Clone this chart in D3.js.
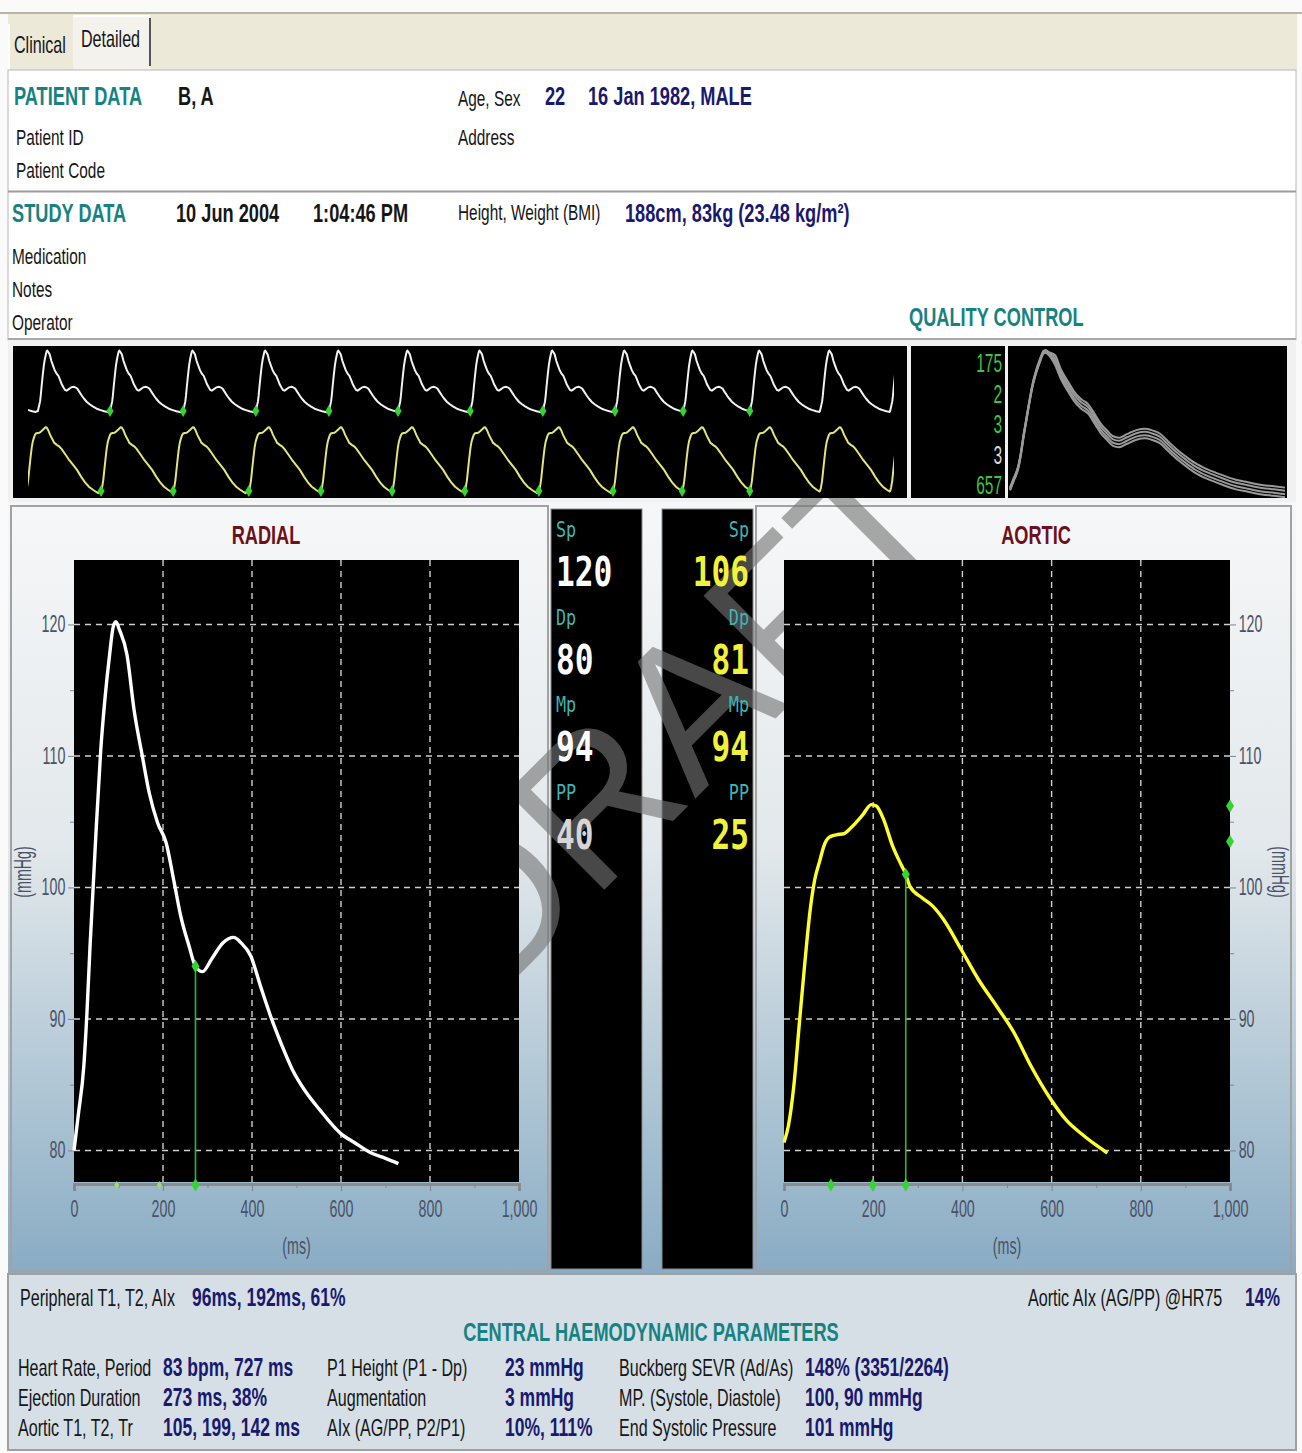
<!DOCTYPE html>
<html>
<head>
<meta charset="utf-8">
<script src="https://cdnjs.cloudflare.com/ajax/libs/d3/7.8.5/d3.min.js"></script>
<style>
  html, body { margin: 0; padding: 0; background: #fff; overflow: hidden; }
</style>
</head>
<body>
<div id="chart"></div>
<script>

// ---- waveform data (time in ms, pressure in mmHg)
const radialT = [0, 10, 22, 29, 36, 43, 49, 60, 70, 80, 88, 94, 102, 119, 135, 154, 169, 188, 207, 225, 240, 258, 273, 289, 310, 335, 359, 375, 397, 420, 444, 467, 490, 520, 552, 599, 630, 668, 700, 729];
const radialP = [80, 82.8, 86.4, 90.4, 95.5, 100, 103.9, 110.4, 114.5, 117.7, 119.8, 120.2, 119.6, 117.7, 113.5, 109.9, 107.2, 104.9, 103.4, 100.4, 97.8, 95.6, 94.0, 93.6, 94.6, 95.8, 96.2, 95.8, 94.8, 92.4, 90, 88, 86.2, 84.5, 83.1, 81.3, 80.6, 79.8, 79.4, 79.0];

const aorticT = [0, 10, 22, 34, 46, 58, 69, 80, 90, 101, 117, 135, 152, 176, 196, 207, 223, 243, 263, 273, 282, 310, 333, 357, 397, 436, 476, 515, 554, 594, 633, 673, 700, 725];
const aorticP = [80.6, 81.9, 84.9, 89.5, 94, 98.1, 100.6, 102.0, 103.2, 103.8, 104.0, 104.1, 104.6, 105.5, 106.3, 106.2, 105.2, 103.2, 101.7, 101.0, 100.1, 99.2, 98.6, 97.6, 95.3, 93.0, 91.0, 89.0, 86.4, 84.1, 82.3, 81.1, 80.4, 79.8];

// axes
const xTicks = [0, 200, 400, 600, 800, 1000];
const xMinor = [100, 300, 500, 700, 900];
const yTicks = [80, 90, 100, 110, 120];
const yMinor = [85, 95, 105, 115];
const yVisible = [77.6, 124.9];

// markers
const radialAxisMarks = [96, 192, 273];
const aorticAxisMarks = [105, 199, 273];
const aorticSideMarks = [106.2, 103.5];
const ejectionMs = 273;

// beat onsets in the capture strip (ms)
const radialOnsets = [-475, 250, 975, 1710, 2440, 3175, 3870, 4595, 5325, 6050, 6735, 7405, 8110, 8815];
const aorticOnsets = [-597, 130, 885, 1610, 2370, 3095, 3810, 4540, 5285, 6030, 6725, 7405, 8110, 8815];
const qcSpread = [-1.4, -0.5, 0.5, 1.4];
const qcReadings = ["175", "2", "3", "3", "657"];
const qcColors = ["#3fc43f", "#3fc43f", "#3fc43f", "#d8d8d8", "#3fc43f"];

// pressures
const bpNames = ["Sp", "Dp", "Mp", "PP"];
const radialBP = [120, 80, 94, 40];
const aorticBP = [106, 81, 94, 25];

// patient / parameter texts
const patientRow = ["B, A", "22", "16 Jan 1982, MALE"];
const studyRow = ["10 Jun 2004", "1:04:46 PM", "188cm, 83kg (23.48 kg/m\u00b2)"];
const peripheral = ["Peripheral T1, T2, AIx", "96ms, 192ms, 61%"];
const aorticAIx = ["Aortic AIx (AG/PP) @HR75", "14%"];
const centralLabels = [
  ["Heart Rate, Period", "Ejection Duration", "Aortic T1, T2, Tr"],
  ["P1 Height (P1 - Dp)", "Augmentation", "AIx (AG/PP, P2/P1)"],
  ["Buckberg SEVR (Ad/As)", "MP. (Systole, Diastole)", "End Systolic Pressure"]];
const centralValues = [
  ["83 bpm, 727 ms", "273 ms, 38%", "105, 199, 142 ms"],
  ["23 mmHg", "3 mmHg", "10%, 111%"],
  ["148% (3351/2264)", "100, 90 mmHg", "101 mmHg"]];


const W = 1302, H = 1453;
const SANS = "'Liberation Sans', Arial, sans-serif";
const MONO = "'DejaVu Sans Mono', 'Liberation Mono', monospace";
const SX = 0.7;
const TEAL = "#178282", NAVY = "#19196e", INK = "#161616", WINE = "#6e1018", AXIS = "#4a5266";
const GREEN = "#33d433";

const svg = d3.select("#chart").append("svg")
    .attr("width", W)
    .attr("height", H);

const defs = svg.append("defs");
const grad = defs.append("linearGradient")
    .attr("id", "panelGrad")
    .attr("x1", 0).attr("y1", 0).attr("x2", 0).attr("y2", 1);
[[0, "#f6f7f8"], [0.45, "#e2e8eb"], [1, "#89acc4"]].forEach(([o, c]) =>
    grad.append("stop").attr("offset", o).attr("stop-color", c));

// condensed text helper
function label(g, x, y, s, o = {}) {
    const sx = o.sx ?? SX;
    const rot = o.rotate ? ` rotate(${o.rotate})` : "";
    return g.append("text")
        .attr("transform", `translate(${x},${y})${rot} scale(${sx},1)`)
        .attr("font-family", o.family || SANS)
        .attr("font-size", o.size || 22)
        .attr("font-weight", o.bold ? 700 : 400)
        .attr("fill", o.fill || INK)
        .attr("text-anchor", o.anchor || "start")
        .text(s);
}

function diamond(w, h) {
    return `M0,${-h}L${w},0L0,${h}L${-w},0Z`;
}

// ---- frame
svg.append("rect").attr("width", W).attr("height", H).attr("fill", "#fafafa");
svg.append("rect").attr("x", 8).attr("y", 14).attr("width", 1289).attr("height", 56).attr("fill", "#ece9d8");
svg.append("line").attr("x1", 0).attr("x2", W).attr("y1", 13).attr("y2", 13).attr("stroke", "#b9b5a2").attr("stroke-width", 2);

// tabs
svg.append("rect").attr("x", 73).attr("y", 16).attr("width", 77).attr("height", 54).attr("fill", "#f3f2ec");
svg.append("line").attr("x1", 150).attr("x2", 150).attr("y1", 18).attr("y2", 66).attr("stroke", "#555").attr("stroke-width", 2);
svg.append("line").attr("x1", 73).attr("x2", 150).attr("y1", 16).attr("y2", 16).attr("stroke", "#fff").attr("stroke-width", 2);
svg.append("line").attr("x1", 9).attr("x2", 9).attr("y1", 24).attr("y2", 70).attr("stroke", "#fff").attr("stroke-width", 2);
label(svg, 14, 53, "Clinical", {size: 23});
label(svg, 81, 47, "Detailed", {size: 23});

// patient / study panel
svg.append("rect").attr("x", 8).attr("y", 70).attr("width", 1288).attr("height", 270)
    .attr("fill", "#fff").attr("stroke", "#b8b8b8");
svg.append("line").attr("x1", 8).attr("x2", 1296).attr("y1", 191.5).attr("y2", 191.5).attr("stroke", "#9c9c9c").attr("stroke-width", 2);
svg.append("line").attr("x1", 8).attr("x2", 1296).attr("y1", 339).attr("y2", 339).attr("stroke", "#a8a8a8").attr("stroke-width", 2);

label(svg, 14, 105, "PATIENT DATA", {bold: true, size: 26, fill: TEAL});
label(svg, 178, 105, patientRow[0], {bold: true, size: 26});
label(svg, 458, 106, "Age, Sex", {size: 22});
label(svg, 545, 105, patientRow[1], {bold: true, size: 26, fill: NAVY});
label(svg, 588, 105, patientRow[2], {bold: true, size: 26, fill: NAVY});
label(svg, 16, 145, "Patient ID", {size: 22});
label(svg, 458, 145, "Address", {size: 22});
label(svg, 16, 178, "Patient Code", {size: 22});

label(svg, 12, 222, "STUDY DATA", {bold: true, size: 26, fill: TEAL});
label(svg, 176, 222, studyRow[0], {bold: true, size: 26});
label(svg, 313, 222, studyRow[1], {bold: true, size: 26});
label(svg, 458, 220, "Height, Weight (BMI)", {size: 22});
label(svg, 625, 222, studyRow[2], {bold: true, size: 26, fill: NAVY});
label(svg, 12, 264, "Medication", {size: 22});
label(svg, 12, 297, "Notes", {size: 22});
label(svg, 12, 330, "Operator", {size: 22});
label(svg, 909, 326, "QUALITY CONTROL", {bold: true, size: 26, fill: TEAL});

// strip band
svg.append("rect").attr("x", 8).attr("y", 340).attr("width", 1288).attr("height", 162).attr("fill", "#f1f1f1");

// ---- lower band with waveform panels
svg.append("rect").attr("x", 8).attr("y", 502).attr("width", 1288).attr("height", 771).attr("fill", "url(#panelGrad)");
svg.append("rect").attr("x", 11).attr("y", 506).attr("width", 537).attr("height", 765)
    .attr("fill", "url(#panelGrad)").attr("stroke", "#a2a2a2").attr("stroke-width", 2);
svg.append("rect").attr("x", 756).attr("y", 506).attr("width", 535).attr("height", 765)
    .attr("fill", "url(#panelGrad)").attr("stroke", "#a2a2a2").attr("stroke-width", 2);

// pressure columns
const cols = [
    {x: 551, values: radialBP, fill: "#ffffff", anchor: "start", tx: 556},
    {x: 662, values: aorticBP, fill: "#f2f23a", anchor: "end", tx: 749}];
cols.forEach(c => {
    svg.append("rect").attr("x", c.x).attr("y", 509).attr("width", 91).attr("height", 760)
        .attr("fill", "#000").attr("stroke", "#8a8a8a");
});

// bottom parameter band
svg.append("rect").attr("x", 8).attr("y", 1274).attr("width", 1288).attr("height", 176)
    .attr("fill", "#d5dfe5").attr("stroke", "#a0a0a0").attr("stroke-width", 2);

// watermark (behind strip and plots, over columns)
svg.append("text")
    .attr("transform", "translate(962,532) rotate(-45)")
    .attr("font-family", SANS)
    .attr("font-size", 200)
    .attr("text-anchor", "end")
    .attr("fill", "rgba(117,117,117,0.62)")
    .text("DRAFT");

// column texts, over the watermark
cols.forEach(c => {
    bpNames.forEach((n, i) => {
        label(svg, c.tx, 537 + i * 87.5, n, {family: MONO, size: 21, sx: 0.8, fill: "#40b4b4", anchor: c.anchor});
        label(svg, c.tx, 586 + i * 87.5, c.values[i], {family: MONO, size: 40, sx: 0.78, bold: true,
            fill: (c.anchor === "start" && i === 3) ? "#d6d6d6" : c.fill, anchor: c.anchor});
    });
});

// ---- capture strip
svg.append("rect").attr("x", 13).attr("y", 346).attr("width", 894).attr("height", 152).attr("fill", "#000");
svg.append("rect").attr("x", 911).attr("y", 346).attr("width", 94).attr("height", 152).attr("fill", "#000");
svg.append("rect").attr("x", 1008).attr("y", 346).attr("width", 279).attr("height", 152).attr("fill", "#000");

defs.append("clipPath").attr("id", "stripClip")
    .append("rect").attr("x", 28).attr("y", 346).attr("width", 866).attr("height", 152);
defs.append("clipPath").attr("id", "qcClip")
    .append("rect").attr("x", 1008).attr("y", 346).attr("width", 279).attr("height", 152);

const stripX = d3.scaleLinear().domain([0, 9000]).range([13, 908.5]);
const stripYR = d3.scaleLinear().domain([80, 120]).range([411, 351]);
const stripYA = d3.scaleLinear().domain([81, 106]).range([490, 428]);

function beatTrain(T, P, onsets) {
    const pts = [];
    onsets.forEach((on, k) => {
        const next = k + 1 < onsets.length ? onsets[k + 1] : Infinity;
        T.forEach((t, i) => {
            if (on + t < next) pts.push([on + t, P[i]]);
        });
    });
    return pts;
}

const stripG = svg.append("g").attr("clip-path", "url(#stripClip)");
stripG.append("path")
    .datum(beatTrain(radialT, radialP, radialOnsets))
    .attr("fill", "none").attr("stroke", "#f2f2f2").attr("stroke-width", 2)
    .attr("d", d3.line().x(d => stripX(d[0])).y(d => stripYR(d[1])));
stripG.append("path")
    .datum(beatTrain(aorticT, aorticP, aorticOnsets))
    .attr("fill", "none").attr("stroke", "#e4e47c").attr("stroke-width", 2)
    .attr("d", d3.line().x(d => stripX(d[0])).y(d => stripYA(d[1])));

stripG.selectAll(".rmark").data(radialOnsets.slice(2, 12)).join("path")
    .attr("transform", d => `translate(${stripX(d)},${stripYR(radialP[0])})`)
    .attr("d", diamond(3.5, 6)).attr("fill", GREEN);
stripG.selectAll(".amark").data(aorticOnsets.slice(2, 12)).join("path")
    .attr("transform", d => `translate(${stripX(d)},${stripYA(aorticP[0])})`)
    .attr("d", diamond(3.5, 6)).attr("fill", GREEN);

// quality control readings
qcReadings.forEach((r, i) => {
    label(svg, 1002, 372 + i * 30.5, r, {size: 25, sx: 0.62, fill: qcColors[i], anchor: "end"});
});

// quality control overlay of beats
const qcX = d3.scaleLinear().domain([0, 729]).range([1010, 1285]);
const qcY = d3.scaleLinear().domain([80, 120]).range([489, 352]);
const qcG = svg.append("g").attr("clip-path", "url(#qcClip)");
qcSpread.forEach(s => {
    qcG.append("path")
        .datum(radialT.map((t, i) => [t, radialP[i] + s * (i > 12 ? 1 : 0.3)]))
        .attr("fill", "none").attr("stroke", "#9a9a9a").attr("stroke-width", 2)
        .attr("d", d3.line().x(d => qcX(d[0])).y(d => qcY(d[1])).curve(d3.curveMonotoneX));
});

// ---- waveform plots
function wavePanel(o) {
    const g = svg.append("g");
    const x = d3.scaleLinear().domain([0, 1000]).range([o.left, o.right]);
    const y = d3.scaleLinear().domain(yVisible).range([1182, 560]);
    const top = y(yVisible[1]), bottom = y(yVisible[0]);

    g.append("rect").attr("x", o.left).attr("y", top)
        .attr("width", o.right - o.left).attr("height", bottom - top).attr("fill", "#000");

    // grid
    g.selectAll(".vgrid").data(xTicks.slice(1, -1)).join("line")
        .attr("x1", d => x(d)).attr("x2", d => x(d)).attr("y1", top).attr("y2", bottom)
        .attr("stroke", "#cfcfcf").attr("stroke-width", 1.4).attr("stroke-dasharray", "6,5");
    g.selectAll(".hgrid").data(yTicks).join("line")
        .attr("x1", o.left).attr("x2", o.right).attr("y1", d => y(d)).attr("y2", d => y(d))
        .attr("stroke", "#cfcfcf").attr("stroke-width", 1.4).attr("stroke-dasharray", "6,5");

    // x axis
    const xa = g.append("g").attr("transform", `translate(0,${bottom + 2})`)
        .call(d3.axisBottom(x).tickValues(xTicks).tickFormat(d3.format(",")).tickSize(7).tickPadding(10));
    xa.append("g").call(d3.axisBottom(x).tickValues(xMinor).tickFormat("").tickSize(4))
        .select(".domain").remove();
    xa.select(".domain").attr("stroke", "#8c8c8c").attr("stroke-width", 3);

    // y axis
    const side = o.side === "left";
    const yAxis = side ? d3.axisLeft(y) : d3.axisRight(y);
    const yMinorAxis = side ? d3.axisLeft(y) : d3.axisRight(y);
    const ya = g.append("g").attr("transform", `translate(${side ? o.left : o.right},0)`)
        .call(yAxis.tickValues(yTicks).tickSize(6).tickPadding(3));
    ya.append("g").call(yMinorAxis.tickValues(yMinor).tickFormat("").tickSize(4));
    ya.selectAll(".domain").remove();

    [xa, ya].forEach(a => {
        a.attr("font-family", SANS).attr("font-size", 23);
        a.selectAll(".tick line").attr("stroke", "#7d8592");
        a.selectAll(".tick text").attr("fill", AXIS);
    });
    xa.selectAll(".tick text").attr("transform", "scale(0.62,1)");
    ya.selectAll(".tick text")
        .attr("x", side ? -14 : 14)
        .attr("transform", "scale(0.62,1)");

    // titles
    label(g, o.titleX, 544, o.title, {bold: true, size: 26, fill: WINE, anchor: "middle"});
    label(g, (o.left + o.right) / 2, 1254, "(ms)", {size: 23, fill: AXIS, anchor: "middle", sx: 0.62});
    label(g, o.unitX, 872, "(mmHg)", {size: 23, fill: AXIS, anchor: "middle", sx: 0.62, rotate: side ? -90 : 90});

    // curve
    const pts = o.T.map((t, i) => [t, o.P[i]]);
    g.append("path").datum(pts)
        .attr("fill", "none").attr("stroke", o.color).attr("stroke-width", 3.4)
        .attr("stroke-linejoin", "round")
        .attr("d", d3.line().x(d => x(d[0])).y(d => y(d[1])).curve(d3.curveMonotoneX));

    // ejection marker and line
    const ed = pts.find(d => d[0] === ejectionMs);
    g.append("line")
        .attr("x1", x(ed[0])).attr("x2", x(ed[0])).attr("y1", y(ed[1])).attr("y2", bottom + 3)
        .attr("stroke", "#2fb82f").attr("stroke-width", 1.6);
    g.append("path").attr("transform", `translate(${x(ed[0])},${y(ed[1])})`)
        .attr("d", diamond(4, 6.5)).attr("fill", GREEN);

    g.selectAll(".axmark").data(o.axisMarks).join("path")
        .attr("transform", d => `translate(${x(d)},${bottom + 3})`)
        .attr("d", (d, i) => o.smallMarks && i < 2 ? diamond(2.5, 4) : diamond(4, 6.5))
        .attr("fill", (d, i) => o.smallMarks && i < 2 ? "#9fdc6a" : GREEN);

    if (o.sideMarks) {
        g.selectAll(".sidemark").data(o.sideMarks).join("path")
            .attr("transform", d => `translate(${o.right},${y(d)})`)
            .attr("d", diamond(4, 6.5)).attr("fill", GREEN);
    }
}

wavePanel({left: 74, right: 519, side: "left", title: "RADIAL", titleX: 266, unitX: 31,
    T: radialT, P: radialP, color: "#ffffff", axisMarks: radialAxisMarks, smallMarks: true});
wavePanel({left: 784, right: 1230, side: "right", title: "AORTIC", titleX: 1036, unitX: 1272,
    T: aorticT, P: aorticP, color: "#ffff2e", axisMarks: aorticAxisMarks, sideMarks: aorticSideMarks});

// ---- bottom parameters
label(svg, 20, 1306, peripheral[0], {size: 23});
label(svg, 192, 1306, peripheral[1], {bold: true, size: 25, fill: NAVY});
label(svg, 1028, 1306, aorticAIx[0], {size: 23});
label(svg, 1245, 1306, aorticAIx[1], {bold: true, size: 25, fill: NAVY});
label(svg, 651, 1341, "CENTRAL HAEMODYNAMIC PARAMETERS", {bold: true, size: 26, fill: TEAL, anchor: "middle"});

const colX = [[18, 163], [327, 505], [619, 805]];
centralLabels.forEach((col, c) => {
    col.forEach((s, r) => {
        label(svg, colX[c][0], 1376 + r * 30, s, {size: 23});
        label(svg, colX[c][1], 1376 + r * 30, centralValues[c][r], {bold: true, size: 25, fill: NAVY});
    });
});

</script>
</body>
</html>
